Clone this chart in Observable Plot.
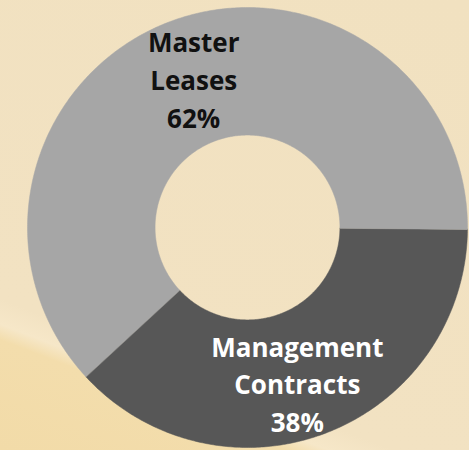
<!DOCTYPE html>
<html>
<head>
<meta charset="utf-8">
<script src="https://cdn.jsdelivr.net/npm/d3@7"></script>
<script src="https://cdn.jsdelivr.net/npm/@observablehq/plot@0.6"></script>
<style>
  html, body { margin: 0; padding: 0; }
  body {
    width: 469px; height: 450px; overflow: hidden;
    background: linear-gradient(201deg, #f1e1c0 0%, #f2e2c2 76%, #f6e7c8 80%, #f3ddac 82.5%, #f2dba8 100%);
  }
  #chart svg { display: block; background: transparent; }
</style>
</head>
<body>
<div id="chart"></div>
<script>
// Data
const categories = ["Management Contracts", "Master Leases"];
const shares = [38, 62];
const labels = ["Management\nContracts\n38%", "Master\nLeases\n62%"];

// Donut construction (unit coordinates)
const startDeg = 90.5;          // first slice starts just below 3 o'clock
const innerR = 0.42, outerR = 1.0, labelR = 0.73;
const pie = d3.pie().sort(null).value(d => d)
  .startAngle(startDeg * Math.PI / 180)
  .endAngle((startDeg + 360) * Math.PI / 180)(shares);

const pts = [];
const labelData = [];
pie.forEach((s, i) => {
  const n = Math.max(8, Math.ceil((s.endAngle - s.startAngle) / 0.01));
  for (let k = 0; k <= n; k++) {
    const a = s.startAngle + (s.endAngle - s.startAngle) * k / n;
    pts.push({cat: categories[i], x: outerR * Math.sin(a), y: outerR * Math.cos(a)});
  }
  for (let k = n; k >= 0; k--) {
    const a = s.startAngle + (s.endAngle - s.startAngle) * k / n;
    pts.push({cat: categories[i], x: innerR * Math.sin(a), y: innerR * Math.cos(a)});
  }
  const m = (s.startAngle + s.endAngle) / 2;
  labelData.push({cat: categories[i], text: labels[i], x: labelR * Math.sin(m), y: labelR * Math.cos(m)});
});

const isMaster = d => d.cat === "Master Leases";
const textOpts = {
  x: "x", y: "y", text: "text",
  fontSize: 26, fontWeight: "bold", fontFamily: "'Open Sans', sans-serif",
  lineHeight: 1.46
};

const chart = Plot.plot({
  width: 469,
  height: 450,
  margin: 0,
  x: {domain: [-1, 1], range: [27, 467], axis: null},
  y: {domain: [-1, 1], range: [447, 7], axis: null},
  color: {domain: categories, range: ["#575757", "#a6a6a6"]},
  style: {background: "transparent"},
  marks: [
    Plot.line(pts, {x: "x", y: "y", z: "cat", fill: "cat", stroke: "cat", strokeWidth: 0.5, curve: "linear-closed"}),
    Plot.text(labelData.filter(isMaster), {...textOpts, fill: "#111111", dx: 4, dy: 0}),
    Plot.text(labelData.filter(d => !isMaster(d)), {...textOpts, fill: "#ffffff", dx: -8, dy: 5})
  ]
});
document.getElementById("chart").appendChild(chart);
</script>
</body>
</html>
